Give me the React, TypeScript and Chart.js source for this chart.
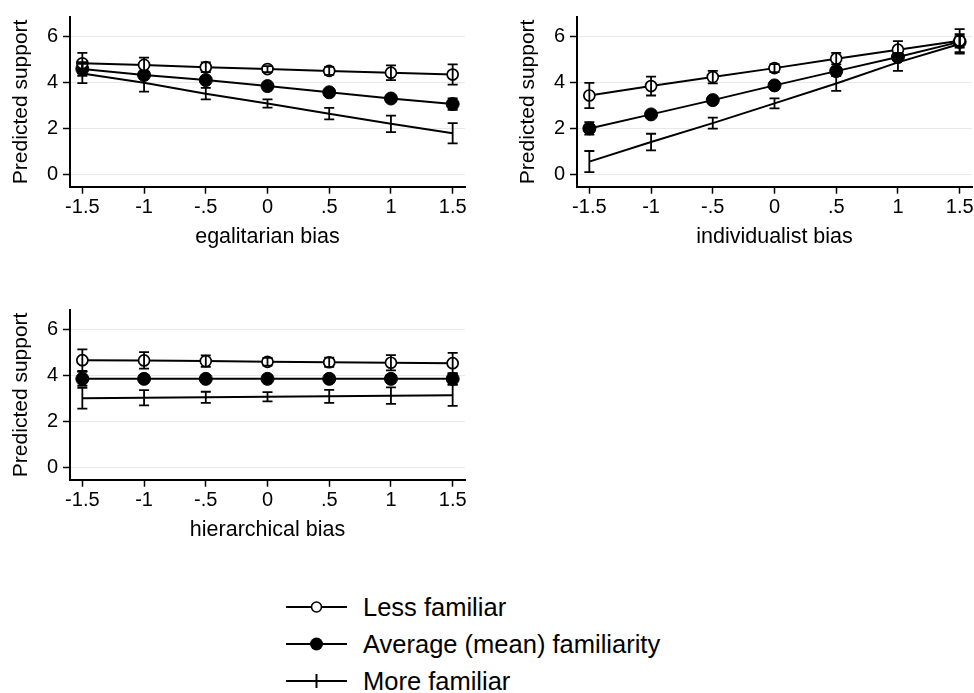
import React, { useEffect, useRef } from "react";
import { Chart, registerables } from "chart.js";

Chart.register(...registerables);

const FONT = "'Liberation Sans', Arial, Helvetica, sans-serif";

const xValues = [-1.5, -1, -0.5, 0, 0.5, 1, 1.5];
const xTickLabels = ["-1.5", "-1", "-.5", "0", ".5", "1", "1.5"];
const yTicks = [0, 2, 4, 6];
const seriesNames = ["Less familiar", "Average (mean) familiarity", "More familiar"];

// Panel 1: egalitarian bias
const egalLess = [4.84, 4.77, 4.67, 4.59, 4.51, 4.43, 4.35];
const egalLessErr = [0.45, 0.32, 0.21, 0.13, 0.17, 0.32, 0.44];
const egalAvg = [4.59, 4.33, 4.11, 3.85, 3.58, 3.31, 3.07];
const egalAvgErr = [0.3, 0.15, 0.1, 0.08, 0.1, 0.14, 0.25];
const egalMore = [4.4, 3.99, 3.52, 3.09, 2.65, 2.21, 1.8];
const egalMoreErr = [0.42, 0.38, 0.25, 0.18, 0.25, 0.36, 0.44];

// Panel 2: individualist bias
const indLess = [3.44, 3.85, 4.24, 4.63, 5.04, 5.43, 5.82];
const indLessErr = [0.55, 0.41, 0.27, 0.17, 0.25, 0.37, 0.5];
const indAvg = [2.01, 2.62, 3.24, 3.88, 4.5, 5.11, 5.77];
const indAvgErr = [0.27, 0.12, 0.1, 0.08, 0.12, 0.18, 0.25];
const indMore = [0.57, 1.42, 2.24, 3.1, 3.96, 4.88, 5.68];
const indMoreErr = [0.46, 0.36, 0.24, 0.22, 0.32, 0.37, 0.42];

// Panel 3: hierarchical bias
const hierLess = [4.67, 4.66, 4.63, 4.6, 4.58, 4.56, 4.54];
const hierLessErr = [0.47, 0.36, 0.25, 0.17, 0.2, 0.33, 0.45];
const hierAvg = [3.86, 3.86, 3.86, 3.86, 3.86, 3.86, 3.86];
const hierAvgErr = [0.3, 0.15, 0.1, 0.08, 0.1, 0.15, 0.25];
const hierMore = [3.02, 3.04, 3.06, 3.08, 3.1, 3.13, 3.15];
const hierMoreErr = [0.45, 0.33, 0.24, 0.2, 0.28, 0.36, 0.46];

const errorBarPlugin = {
  id: "errorBars",
  afterDatasetsDraw(chart: any) {
    const ctx = chart.ctx;
    const xs = chart.scales.x;
    const ys = chart.scales.y;
    ctx.save();
    ctx.strokeStyle = "#000";
    ctx.lineWidth = 1.8;
    chart.data.datasets.forEach((ds: any) => {
      const errs: number[] = ds.errors;
      if (!errs) return;
      ds.data.forEach((p: any, i: number) => {
        const px = xs.getPixelForValue(p.x);
        const top = ys.getPixelForValue(p.y + errs[i]);
        const bot = ys.getPixelForValue(p.y - errs[i]);
        ctx.beginPath();
        ctx.moveTo(px, top);
        ctx.lineTo(px, bot);
        ctx.moveTo(px - 5, top);
        ctx.lineTo(px + 5, top);
        ctx.moveTo(px - 5, bot);
        ctx.lineTo(px + 5, bot);
        ctx.stroke();
      });
    });
    ctx.restore();
  },
};

function makeDatasets(less: number[], lessErr: number[], avg: number[], avgErr: number[], more: number[], moreErr: number[]) {
  const toPts = (arr: number[]) => xValues.map((x, i) => ({ x, y: arr[i] }));
  return [
    {
      label: seriesNames[0],
      data: toPts(less),
      errors: lessErr,
      borderColor: "#000",
      borderWidth: 2,
      pointRadius: 5.5,
      pointBackgroundColor: "#fff",
      pointBorderColor: "#000",
      pointBorderWidth: 1.7,
      tension: 0,
    },
    {
      label: seriesNames[1],
      data: toPts(avg),
      errors: avgErr,
      borderColor: "#000",
      borderWidth: 2,
      pointRadius: 6.5,
      pointBackgroundColor: "#000",
      pointBorderColor: "#000",
      pointBorderWidth: 1,
      tension: 0,
    },
    {
      label: seriesNames[2],
      data: toPts(more),
      errors: moreErr,
      borderColor: "#000",
      borderWidth: 2,
      pointRadius: 0,
      tension: 0,
    },
  ];
}

function Panel(props: { left: number; top: number; title: string; datasets: any[] }) {
  const ref = useRef<HTMLCanvasElement | null>(null);
  useEffect(() => {
    if (!ref.current) return;
    const chart = new Chart(ref.current, {
      type: "line",
      data: { datasets: props.datasets as any },
      plugins: [errorBarPlugin],
      options: {
        animation: false,
        responsive: false,
        layout: { padding: { top: 7, right: 15, left: 0, bottom: 0 } },
        plugins: { legend: { display: false }, tooltip: { enabled: false } },
        scales: {
          x: {
            type: "linear",
            min: -1.6,
            max: 1.6,
            afterBuildTicks: (s: any) => {
              s.ticks = xValues.map((v) => ({ value: v }));
            },
            afterFit: (s: any) => {
              s.height = 63.3;
            },
            ticks: {
              callback: (v: any) => xTickLabels[xValues.indexOf(Number(v))],
              font: { size: 20, family: FONT },
              color: "#000",
              padding: 2,
              maxRotation: 0,
              autoSkip: false,
            },
            grid: {
              drawOnChartArea: false,
              drawTicks: true,
              tickLength: 7,
              tickColor: "#000",
              tickWidth: 1.5,
            },
            border: { display: true, color: "#000", width: 2 },
            title: {
              display: true,
              text: props.title,
              font: { size: 21.5, family: FONT },
              color: "#000",
              padding: { top: 0, bottom: 0 },
            },
          },
          y: {
            type: "linear",
            min: -0.52,
            max: 6.85,
            afterBuildTicks: (s: any) => {
              s.ticks = yTicks.map((v) => ({ value: v }));
            },
            afterFit: (s: any) => {
              s.width = 70;
            },
            ticks: {
              font: { size: 20, family: FONT },
              color: "#000",
              padding: 5,
            },
            grid: {
              color: "#e9e9e9",
              lineWidth: 1,
              drawTicks: true,
              tickLength: 7,
              tickColor: "#000",
              tickWidth: 1.5,
            },
            border: { display: true, color: "#000", width: 2 },
            title: {
              display: true,
              text: "Predicted support",
              font: { size: 21, family: FONT },
              color: "#000",
              padding: { top: 9, bottom: 0 },
            },
          },
        },
      } as any,
    });
    return () => chart.destroy();
  }, []);
  return (
    <div style={{ position: "absolute", left: props.left, top: props.top, width: 480, height: 250 }}>
      <canvas ref={ref} width={480} height={250} style={{ width: 480, height: 250, display: "block" }} />
    </div>
  );
}

function LegendGlyph(props: { kind: number }) {
  return (
    <svg width={61} height={24} style={{ display: "block", flex: "none" }}>
      <line x1={0} y1={12} x2={61} y2={12} stroke="#000" strokeWidth={2} />
      {props.kind === 0 && <circle cx={30.5} cy={12} r={5} fill="#fff" stroke="#000" strokeWidth={1.6} />}
      {props.kind === 1 && <circle cx={30.5} cy={12} r={6.5} fill="#000" />}
      {props.kind === 2 && <line x1={30.5} y1={5} x2={30.5} y2={19} stroke="#000" strokeWidth={2} />}
    </svg>
  );
}

export default function App() {
  const legendRows = [606.7, 644.3, 680.7];
  return (
    <div
      style={{
        position: "absolute",
        left: 0,
        top: 0,
        width: 974,
        height: 693,
        overflow: "hidden",
        background: "#fff",
        fontFamily: FONT,
      }}
    >
      <Panel left={0} top={0} title="egalitarian bias" datasets={makeDatasets(egalLess, egalLessErr, egalAvg, egalAvgErr, egalMore, egalMoreErr)} />
      <Panel left={507} top={0} title="individualist bias" datasets={makeDatasets(indLess, indLessErr, indAvg, indAvgErr, indMore, indMoreErr)} />
      <Panel left={0} top={293} title="hierarchical bias" datasets={makeDatasets(hierLess, hierLessErr, hierAvg, hierAvgErr, hierMore, hierMoreErr)} />
      {seriesNames.map((name, i) => (
        <div
          key={name}
          style={{
            position: "absolute",
            left: 286,
            top: legendRows[i] - 15,
            height: 30,
            display: "flex",
            alignItems: "center",
            whiteSpace: "nowrap",
          }}
        >
          <LegendGlyph kind={i} />
          <span style={{ marginLeft: 16, fontSize: 25.5, lineHeight: "30px", color: "#000" }}>{name}</span>
        </div>
      ))}
    </div>
  );
}
